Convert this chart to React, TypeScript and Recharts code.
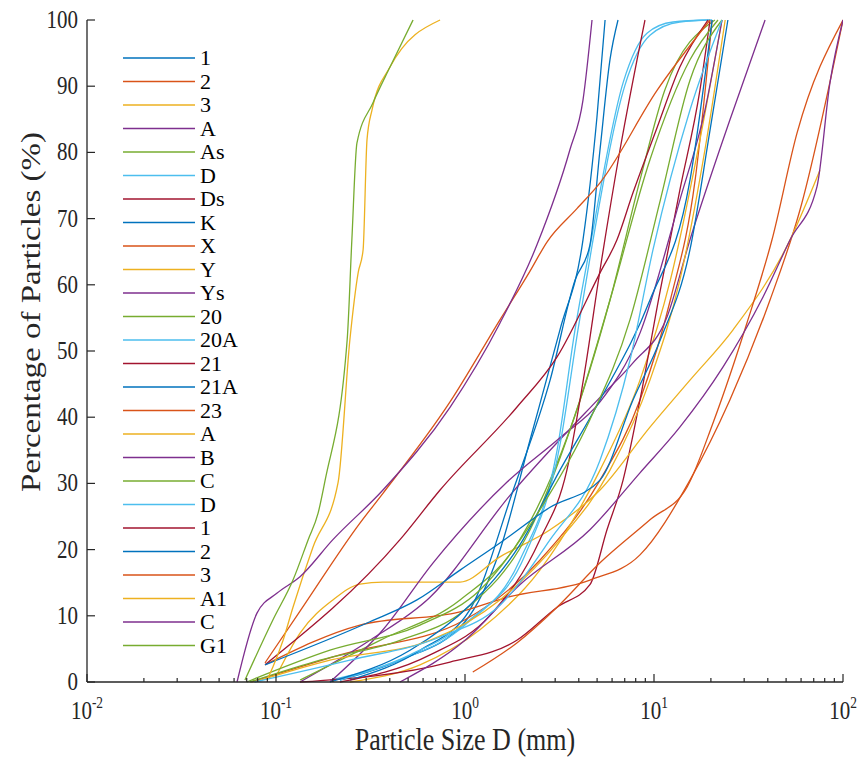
import React from 'react'
import { LineChart, Line, XAxis, YAxis } from 'recharts'

// legend labels, in plotting order
const seriesNames = ['1', '2', '3', 'A', 'As', 'D', 'Ds', 'K', 'X', 'Y', 'Ys', '20', '20A', '21', '21A', '23', 'A', 'B', 'C', 'D', '1', '2', '3', 'A1', 'C', 'G1']
// MATLAB default colour order, cycled
const lineColors = ['#0072BD', '#D95319', '#EDB120', '#7E2F8E', '#77AC30', '#4DBEEE', '#A2142F']

// [particle size (mm), percentage passing (%)]
const s01 = [[0.218, 0.3], [0.453, 3.3], [1, 9.1], [1.53, 19.9], [2.21, 36.6], [3.18, 53.2], [4.21, 66.8], [4.99, 85.3], [5.51, 100]]
const s02 = [[0.074, 0], [0.218, 4.1], [1, 9.4], [2.49, 18.4], [5.18, 30.5], [8.43, 42.6], [12.2, 57.7], [16.5, 75.8], [20.3, 100]]
const s03 = [[0.246, 0], [0.578, 2.6], [1.2, 7.9], [2.49, 16.9], [5.18, 32], [8.43, 45.6], [12.2, 60.7], [17.5, 81.9], [22.9, 100]]
const s04 = [[0.134, 0], [0.314, 6.3], [0.653, 12.8], [1.73, 28.2], [5.18, 43], [7.74, 48.2], [11.7, 55.1], [15.5, 66.8], [25.2, 84.9], [38.7, 100]]
const s05 = [[0.134, 0.3], [0.355, 6.3], [0.941, 12.4], [1.95, 21.5], [3.59, 38.1], [5.85, 57.7], [8.43, 75.8], [11.4, 89.4], [21, 100]]
const s06 = [[0.193, 0.3], [0.453, 3.3], [1, 8.6], [1.95, 18.4], [3.07, 35], [3.82, 53.2], [4.58, 65.7], [6.86, 90.5], [9.18, 98], [12.6, 99.7], [19.8, 100]]
const s07 = [[0.134, 0], [0.833, 3], [1.88, 6.3], [3.07, 11.3], [4.58, 14.7], [5.64, 23], [6.86, 30.5], [8.43, 42.6], [10.8, 59.2], [13.7, 74.3], [17.5, 89.4], [19.8, 100]]
const s08 = [[0.246, 0.3], [0.578, 4.8], [1.06, 10.9], [1.8, 29], [2.82, 45.6], [3.82, 60.7], [4.58, 66], [5.18, 80.4], [5.85, 94], [6.45, 100]]
const s09 = [[0.0875, 2.6], [0.278, 8.6], [0.941, 10.6], [1.67, 12.8], [4.58, 15.4], [8.43, 19.2], [15.5, 30.5], [25.2, 42.6], [41.1, 57.7], [59.2, 71.3], [100, 100]]
const s10 = [[0.101, 1.1], [0.134, 7.4], [0.2, 12.4], [0.278, 14.8], [0.368, 15.1], [0.941, 15.1], [1.53, 18.9], [2.82, 23], [5.18, 29], [9.52, 38.5], [15.5, 45.6], [26.2, 53.2], [52.5, 66.8], [75.5, 77.3]]
const s11 = [[0.193, 0], [0.368, 7.9], [0.678, 18], [1.67, 30.2], [3.18, 36.9], [5.18, 42.3], [8.43, 52.7], [13.7, 72.8], [18.6, 86.4], [22.9, 100]]
const s12 = [[0.0728, 0], [0.171, 3.3], [0.453, 6.3], [1, 10.9], [2.21, 23], [4.06, 42.6], [5.85, 57.7], [9.52, 78.9], [15.5, 94], [21.8, 100]]
const s13 = [[0.218, 0.3], [0.512, 4.1], [1.06, 9.4], [2.08, 19.2], [3.18, 35.8], [3.96, 53.2], [4.7, 65.9], [7.03, 90.2], [9.52, 97.7], [13.7, 99.7], [20.3, 100]]
const s14 = [[0.218, 0], [0.653, 4.1], [1.36, 10.1], [2.49, 21.5], [3.46, 32], [4.31, 47.1], [5.18, 62.2], [6.61, 80.4], [8.96, 100]]
const s15 = [[0.193, 0], [0.512, 4.8], [1.06, 11.6], [1.95, 20.7], [3.18, 32], [5.18, 42.6], [9.52, 57.7], [15.5, 75.8], [20.3, 100]]
const s16 = [[1.1, 1.5], [1.88, 5.9], [3.07, 11.3], [5.18, 18], [9.52, 24.5], [15, 29.5], [20.5, 39.1], [31, 54.2], [42.1, 66.8], [57.1, 82.9], [100, 100]]
const s17 = [[0.077, 0], [0.193, 3.3], [0.653, 6.3], [1.53, 12.4], [3.18, 21.5], [5.85, 32], [9.52, 45.6], [13.7, 60.7], [18.6, 80.4], [23.8, 100]]
const s18 = [[0.453, 0], [1, 6.3], [1.95, 14.7], [4.58, 23], [8.43, 31.6], [13.7, 38.5], [23.2, 47.6], [37.8, 58.2], [52.5, 66.8], [72.8, 74.8], [85.3, 90.5], [100, 100]]
const s19 = [[0.07, 0], [0.193, 4.8], [0.578, 8.6], [1.2, 13.9], [2.49, 26], [4.58, 39.6], [7.46, 54.7], [10.8, 72.8], [15.5, 90.9], [22.9, 100]]
const s20 = [[0.077, 0], [0.246, 3.3], [0.738, 6.8], [1.53, 11.6], [2.82, 21.5], [5.18, 33.5], [7.46, 48.6], [9.88, 65.3], [15.5, 86.4], [22.9, 100]]
const s21 = [[0.0875, 2.6], [0.453, 21.5], [0.738, 29], [1.88, 41.5], [3.07, 49.1], [5.18, 61.8], [6.37, 66.8], [7.74, 73.9], [10.4, 83.8], [13.7, 92.9], [19.3, 100]]
const s22 = [[0.0875, 2.6], [0.314, 9.1], [0.557, 12.4], [0.941, 16.9], [1.53, 21], [2.82, 26.4], [5.18, 30.5], [7.74, 42.6], [10.8, 51.7], [15.5, 65.3], [19.8, 83.4], [24.6, 100]]
const s23 = [[0.0875, 2.9], [0.134, 10.7], [0.278, 24], [0.368, 28.5], [0.833, 42.3], [1.53, 54.7], [2.2, 62], [2.72, 66.5], [3.91, 71.5], [5.18, 75.4], [10.4, 89.4], [19.8, 100]]
const s24 = [[0.0896, 0.3], [0.0964, 2.3], [0.109, 6.3], [0.123, 11.3], [0.157, 20.4], [0.213, 30.1], [0.246, 51.7], [0.272, 61.8], [0.289, 65.3], [0.303, 81.9], [0.322, 86.4], [0.401, 92.9], [0.738, 100]]
const s25 = [[0.0622, 0], [0.0793, 10.4], [0.101, 13.4], [0.134, 15.9], [0.2, 21.5], [0.368, 29], [0.833, 41.5], [1.53, 54.2], [2.4, 66], [3.59, 80.4], [4.21, 87.9], [4.7, 100]]
const s26 = [[0.0685, 0.3], [0.0964, 9.4], [0.123, 15.4], [0.148, 21.5], [0.167, 25.5], [0.182, 30.5], [0.238, 51.7], [0.252, 66.8], [0.268, 81.4], [0.326, 87.5], [0.401, 92.9], [0.531, 100]]

const allSeries = [s01, s02, s03, s04, s05, s06, s07, s08, s09, s10, s11, s12, s13, s14, s15, s16, s17, s18, s19, s20, s21, s22, s23, s24, s25, s26]

const majorTicks = [0.01, 0.1, 1, 10, 100]
const minorSteps = [2, 3, 4, 5, 6, 7, 8, 9]
const yTicks = [0, 10, 20, 30, 40, 50, 60, 70, 80, 90, 100]

const xTicks: number[] = []
majorTicks.forEach((m, i) => {
  xTicks.push(m)
  if (i < majorTicks.length - 1) minorSteps.forEach(s => xTicks.push(+(m * s).toPrecision(3)))
})

const AXIS = '#262626'
const FONT = '"Liberation Serif", "Times New Roman", serif'
// the figure is a little squeezed sideways, so are its glyphs
const SQUEEZE = 0.84

const isMajor = (v: number) => Math.abs(Math.log10(v) - Math.round(Math.log10(v))) < 1e-6

const BottomTick = ({ x, y, payload }: any) => {
  const v = payload.value
  const major = isMajor(v)
  return (
    <g>
      <line x1={x} x2={x} y1={y} y2={y - (major ? 8 : 4)} stroke={AXIS} strokeWidth={1.2} />
      {major && (
        <text transform={`translate(${x},${y + 37}) scale(${SQUEEZE},1)`} textAnchor="middle" fontSize={25} fontFamily={FONT} fill={AXIS}>
          10<tspan dy={-11} fontSize={16}>{Math.round(Math.log10(v))}</tspan>
        </text>
      )}
    </g>
  )
}

const TopTick = ({ x, y, payload }: any) => (
  <line x1={x} x2={x} y1={y} y2={y + (isMajor(payload.value) ? 8 : 4)} stroke={AXIS} strokeWidth={1.2} />
)

const LeftTick = ({ x, y, payload }: any) => (
  <g>
    <line x1={x} x2={x + 8} y1={y} y2={y} stroke={AXIS} strokeWidth={1.2} />
    <text transform={`translate(${x - 9},${y + 8}) scale(${SQUEEZE},1)`} textAnchor="end" fontSize={25} fontFamily={FONT} fill={AXIS}>
      {payload.value}
    </text>
  </g>
)

const RightTick = ({ x, y }: any) => (
  <line x1={x} x2={x - 8} y1={y} y2={y} stroke={AXIS} strokeWidth={1.2} />
)

export default function App() {
  return (
    <div style={{ position: 'absolute', left: 0, top: 0, width: 862, height: 758, background: '#fff' }}>
      <LineChart width={862} height={758} margin={{ top: 20, right: 19, left: 27, bottom: 36 }}>
        <XAxis
          dataKey="d"
          type="number"
          scale="log"
          domain={[0.01, 100]}
          allowDataOverflow
          ticks={xTicks}
          interval={0}
          tickSize={0}
          tickMargin={0}
          height={40}
          tick={<BottomTick />}
          axisLine={{ stroke: AXIS, strokeWidth: 1.3 }}
        />
        <XAxis
          xAxisId="top"
          orientation="top"
          dataKey="d"
          type="number"
          scale="log"
          domain={[0.01, 100]}
          allowDataOverflow
          ticks={xTicks}
          interval={0}
          tickSize={0}
          tickMargin={0}
          height={0}
          tick={<TopTick />}
          axisLine={{ stroke: AXIS, strokeWidth: 1.3 }}
        />
        <YAxis
          type="number"
          domain={[0, 100]}
          ticks={yTicks}
          interval={0}
          tickSize={0}
          tickMargin={0}
          width={60}
          tick={<LeftTick />}
          axisLine={{ stroke: AXIS, strokeWidth: 1.3 }}
        />
        <YAxis
          yAxisId="right"
          orientation="right"
          type="number"
          domain={[0, 100]}
          ticks={yTicks}
          interval={0}
          tickSize={0}
          tickMargin={0}
          width={0}
          tick={<RightTick />}
          axisLine={{ stroke: AXIS, strokeWidth: 1.3 }}
        />
        {allSeries.map((pts, i) => (
          <Line
            key={i}
            data={pts.map(([d, p]) => ({ d, p }))}
            dataKey="p"
            type="monotone"
            stroke={lineColors[i % lineColors.length]}
            strokeWidth={1.3}
            dot={false}
            isAnimationActive={false}
          />
        ))}
      </LineChart>

      <svg width={862} height={758} style={{ position: 'absolute', left: 0, top: 0, pointerEvents: 'none' }}>
        {seriesNames.map((name, i) => {
          const cy = 58 + i * 23.5
          return (
            <g key={i}>
              <line x1={123} x2={195} y1={cy} y2={cy} stroke={lineColors[i % lineColors.length]} strokeWidth={1.3} />
              <text transform={`translate(200,${cy + 7}) scale(1.1,1)`} fontSize={20} fontFamily={FONT} fill="#000">{name}</text>
            </g>
          )
        })}
        <text transform={`translate(465,750) scale(${SQUEEZE},1)`} textAnchor="middle" fontSize={31} fontFamily={FONT} fill={AXIS}>
          Particle Size D (mm)
        </text>
        <text
          transform={`translate(40,312) rotate(-90) scale(1,${SQUEEZE})`}
          textAnchor="middle"
          fontSize={33}
          fontFamily={FONT}
          fill={AXIS}
        >
          Percentage of Particles (%)
        </text>
      </svg>
    </div>
  )
}
